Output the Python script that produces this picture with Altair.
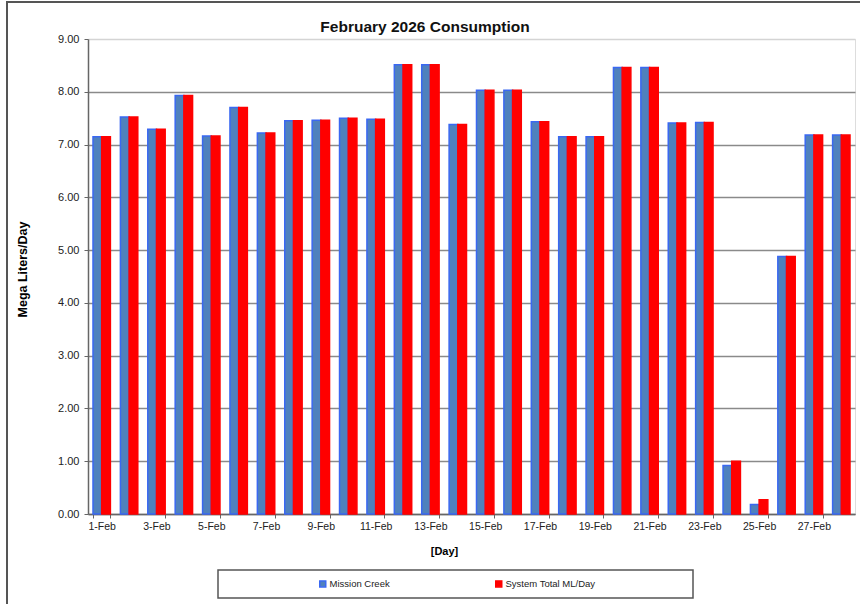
import altair as alt
import pandas as pd

# ---- data ----
days = [f"{d}-Feb" for d in range(1, 29)]
mission_creek = [7.15, 7.52, 7.29, 7.93, 7.16, 7.70, 7.22, 7.45, 7.46, 7.50,
                 7.48, 8.51, 8.51, 7.38, 8.03, 8.03, 7.43, 7.15, 7.15, 8.46,
                 8.46, 7.41, 7.42, 0.92, 0.18, 4.88, 7.18, 7.18]
system_total = [7.15, 7.52, 7.29, 7.93, 7.16, 7.70, 7.22, 7.45, 7.46, 7.50,
                7.48, 8.51, 8.51, 7.38, 8.03, 8.03, 7.43, 7.15, 7.15, 8.46,
                8.46, 7.41, 7.42, 1.00, 0.27, 4.88, 7.18, 7.18]
series_names = ["Mission Creek", "System Total ML/Day"]
y_ticks = [0, 1, 2, 3, 4, 5, 6, 7, 8, 9]
x_label_days = days[::2]
chart_title = "February 2026 Consumption"

rows = []
for i, d in enumerate(days):
    rows.append({"Day": d, "Series": series_names[0], "Value": mission_creek[i]})
    rows.append({"Day": d, "Series": series_names[1], "Value": system_total[i]})
df = pd.DataFrame(rows)

FONT = "Liberation Sans"

legend_cfg = dict(title=None, orient="none", legendX=230, legendY=540,
                  direction="horizontal", symbolType="square",
                  symbolSize=36, labelFont=FONT, labelFontSize=9.5,
                  labelColor="#222", labelOffset=2,
                  columnPadding=102, padding=0)

bars = alt.Chart(df).mark_bar(strokeWidth=1.5).encode(
    x=alt.X("Day:N", sort=days,
            scale=alt.Scale(paddingInner=0.365, paddingOuter=0.1825),
            axis=alt.Axis(values=x_label_days, labelAngle=0, tickBand="extent",
                          title="[Day]", titleX=356, titleY=37,
                          titleBaseline="middle", titleFontSize=11,
                          titleFontWeight="bold", titleFont=FONT,
                          labelFont=FONT, labelFontSize=10.5, labelColor="#222",
                          labelPadding=3, tickSize=4, tickColor="#666",
                          domainColor="#666", domainWidth=1.5, grid=False)),
    xOffset=alt.XOffset("Series:N", sort=series_names),
    y=alt.Y("Value:Q",
            scale=alt.Scale(domain=[0, 9], nice=False, zero=True),
            axis=alt.Axis(values=y_ticks, format=".2f", title="Mega Liters/Day",
                          titleX=-66, titleY=230, titleAngle=-90,
                          titleBaseline="middle", titleFontSize=12.5,
                          titleFontWeight="bold", titleFont=FONT,
                          labelFont=FONT, labelFontSize=11, labelColor="#222",
                          labelPadding=5, tickSize=4, tickColor="#666",
                          domainColor="#666", domainWidth=1.5,
                          grid=True, gridWidth=1.3,
                          gridColor=alt.condition("datum.value == 9",
                                                  alt.value("#d4d4d4"),
                                                  alt.value("#8a8a8a")))),
    color=alt.Color("Series:N", sort=series_names,
                    scale=alt.Scale(domain=series_names, range=["#4f81bd", "#ff0000"]),
                    legend=alt.Legend(**legend_cfg)),
    stroke=alt.Stroke("Series:N", sort=series_names,
                      scale=alt.Scale(domain=series_names, range=["#3a68f2", "#ff0000"]),
                      legend=alt.Legend(**legend_cfg)),
)

one = pd.DataFrame({"k": [0]})

legend_box = alt.Chart(one).mark_rect(fill="white", fillOpacity=0, stroke="#555",
                                      strokeWidth=1.5).encode(
    x=alt.value(130), x2=alt.value(605), y=alt.value(531), y2=alt.value(559))

outer_frame = alt.Chart(one).mark_rect(fill="white", fillOpacity=0, stroke="#555",
                                       strokeWidth=2).encode(
    x=alt.value(-81), x2=alt.value(800), y=alt.value(-37), y2=alt.value(600))

title_text = alt.Chart(one).mark_text(font=FONT, fontSize=15.5, fontWeight="bold",
                                      color="#111", align="center",
                                      baseline="alphabetic").encode(
    x=alt.value(337), y=alt.value(-7), text=alt.value(chart_title))

chart = alt.layer(outer_frame, legend_box, title_text, bars).properties(
    width=767, height=475,
    autosize=alt.AutoSizeParams(type="none"),
    padding={"left": 88, "top": 39, "right": 5, "bottom": 90},
).configure_view(stroke=None).configure(background="white")

chart.save("out.html", embed_options={"renderer": "svg", "actions": False})
